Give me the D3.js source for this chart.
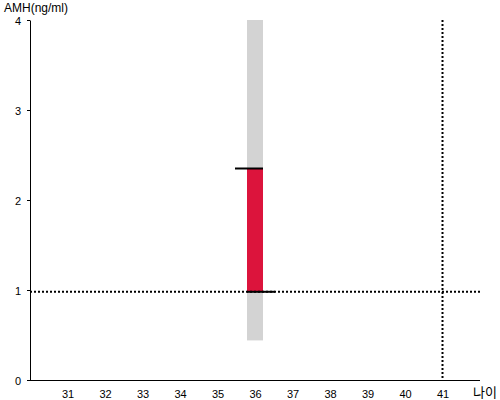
<!DOCTYPE html>
<html>
<head>
<meta charset="utf-8">
<script src="https://cdn.jsdelivr.net/npm/d3@7"></script>
<style>
body { margin: 0; background: #fff; }
svg { font-family: Arial, "Liberation Sans", sans-serif; }
</style>
</head>
<body>
<div class="chart"></div>
<script>
// data
const xTicks = [31, 32, 33, 34, 35, 36, 37, 38, 39, 40, 41];
const yTicks = [0, 1, 2, 3, 4];
const ages = [36];
const rangeLow = [0.44];   // 회색 범위
const rangeHigh = [4.0];
const amhLow = [0.98];     // 빨간 막대
const amhHigh = [2.35];
const refAge = [41];
const refAmh = [0.98];

const width = 500, height = 400;
const margin = { top: 20, right: 20, bottom: 20, left: 30 };

const svg = d3.select('.chart').append('svg')
    .attr('width', width).attr('height', height);

const x = d3.scaleLinear().domain([30, 42]).range([margin.left, width - margin.right]);
const y = d3.scaleLinear().domain([0, 4]).range([height - margin.bottom, margin.top]);

const barW = 16;

// gray range
svg.selectAll('.range').data(ages).enter().append('rect')
    .attr('class', 'range')
    .attr('x', d => x(d) - barW / 2)
    .attr('width', barW)
    .attr('y', (d, i) => y(rangeHigh[i]))
    .attr('height', (d, i) => y(rangeLow[i]) - y(rangeHigh[i]))
    .style('fill', '#d3d3d3');

// red bar
svg.selectAll('.amh').data(ages).enter().append('rect')
    .attr('class', 'amh')
    .attr('x', d => x(d) - barW / 2)
    .attr('width', barW)
    .attr('y', (d, i) => y(amhHigh[i]))
    .attr('height', (d, i) => y(amhLow[i]) - y(amhHigh[i]))
    .style('fill', '#dc143c');

// reference dotted lines
svg.selectAll('.hline').data(refAmh).enter().append('line')
    .attr('x1', x(30)).attr('x2', x(42))
    .attr('y1', d => y(d)).attr('y2', d => y(d))
    .style('stroke', '#000').style('stroke-width', 2).style('stroke-dasharray', '2,2');
svg.selectAll('.vline').data(refAge).enter().append('line')
    .attr('x1', d => x(d)).attr('x2', d => x(d))
    .attr('y1', y(4)).attr('y2', y(0))
    .style('stroke', '#000').style('stroke-width', 2).style('stroke-dasharray', '2,2');

// black caps
svg.selectAll('.capTop').data(ages).enter().append('line')
    .attr('x1', d => x(d) - barW / 2 - 12).attr('x2', d => x(d) + barW / 2)
    .attr('y1', (d, i) => y(amhHigh[i])).attr('y2', (d, i) => y(amhHigh[i]))
    .style('stroke', '#000').style('stroke-width', 2);
svg.selectAll('.capBot').data(ages).enter().append('line')
    .attr('x1', d => x(d) - barW / 2).attr('x2', d => x(d) + barW / 2 + 12)
    .attr('y1', (d, i) => y(amhLow[i])).attr('y2', (d, i) => y(amhLow[i]))
    .style('stroke', '#000').style('stroke-width', 2);

// axes
const xAxis = d3.axisBottom(x).tickValues(xTicks).tickSize(0).tickPadding(10);
const xAxisDraw = svg.append('g')
    .attr('transform', `translate(0,${y(0)})`)
    .call(xAxis);
xAxisDraw.select('.domain').attr('d', `M${x(30)},0.5H${x(42)}`);
xAxisDraw.selectAll('text').style('font-size', '11px').style('fill', '#000');

const yAxis = d3.axisLeft(y).tickValues(yTicks).tickFormat(d3.format('d'))
    .tickSizeInner(3).tickSizeOuter(0).tickPadding(6);
const yAxisDraw = svg.append('g')
    .attr('transform', `translate(${x(30)},0)`)
    .call(yAxis);
yAxisDraw.selectAll('text').style('font-size', '11px').style('fill', '#000');
yAxisDraw.selectAll('.tick text').attr('dy', '0.4em');

// labels
svg.append('text').attr('x', 4).attr('y', 12)
    .style('font-size', '12px').text('AMH(ng/ml)');
svg.append('text').attr('x', 473).attr('y', 397)
    .style('font-family', '"Noto Sans CJK KR", sans-serif')
    .style('font-size', '13px').text('나이');
</script>
</body>
</html>
